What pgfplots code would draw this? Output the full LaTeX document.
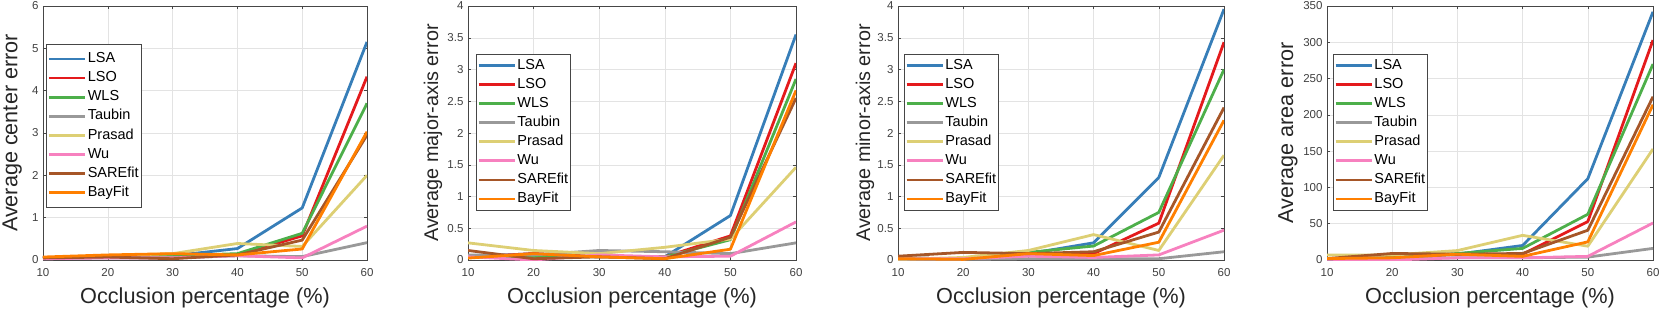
\documentclass[border=0pt]{standalone}
\usepackage{pgfplots}
\pgfplotsset{compat=1.18}
\usepackage{fontspec}
\setmainfont{Liberation Sans}
\definecolor{cLSA}{RGB}{55,126,184}
\definecolor{cLSO}{RGB}{228,26,28}
\definecolor{cWLS}{RGB}{77,175,74}
\definecolor{cTau}{RGB}{153,153,153}
\definecolor{cPra}{RGB}{221,207,116}
\definecolor{cWu}{RGB}{247,129,191}
\definecolor{cSAR}{RGB}{166,86,40}
\definecolor{cBay}{RGB}{255,127,0}
\definecolor{axc}{RGB}{70,70,70}
\pgfplotsset{
  myax/.style={
    scale only axis, height=254pt,
    xmin=10, xmax=60, xtick={10,20,30,40,50,60},
    ymin=0,
    axis line style={axc, line width=0.6pt},
    tick style={axc, line width=0.5pt},
    major tick length=3pt,
    tick pos=both, tick align=inside,
    grid=major, major grid style={gray!22, line width=0.5pt},
    /pgf/number format/assume math mode=true,
    /pgf/number format/fixed,
    ticklabel style={font=\fontsize{11.5}{13}\selectfont, text=black!75},
    xticklabel style={yshift=-5pt},
    yticklabel style={xshift=-1pt},
    xlabel={Occlusion percentage (\%)},
    xlabel style={font=\fontsize{21.7}{24}\selectfont, text=black!85, at={(axis description cs:0.5,0)}, anchor=base, yshift=-43pt},
    ylabel style={rotate=0, anchor=center, text=black!85},
    every axis plot/.append style={line width=2.8pt, line join=round},
    legend cell align=left,
    legend image code/.code={\draw[#1] (0pt,0pt) -- (36pt,0pt);},
    legend style={draw=axc, line width=0.5pt, anchor=north west,
      font=\fontsize{14.5}{16}\selectfont,
      nodes={text height=10.5pt, text depth=3pt, inner ysep=2.8pt, inner xsep=1.5pt},
      inner xsep=1pt, inner ysep=1.5pt},
  },
}
\begin{document}
\begin{tikzpicture}
\path[use as bounding box] (0,0) rectangle (1661pt,309pt);
% Panel 1
\begin{axis}[myax, at={(43pt,49pt)}, anchor=south west, width=324pt,
  ymax=6, ytick={0,1,2,3,4,5,6},
  ylabel={Average center error},
  ylabel style={font=\fontsize{21.6}{24}\selectfont, at={(axis description cs:-0.095,0.5)}},
  legend style={at={(axis description cs:0.01,0.85)}, inner ysep=5pt}]
\addplot[cLSA] coordinates {(10,0.05)(20,0.08)(30,0.10)(40,0.27)(50,1.23)(60,5.15)};
\addplot[cLSO] coordinates {(10,0.05)(20,0.08)(30,0.10)(40,0.12)(50,0.57)(60,4.33)};
\addplot[cWLS] coordinates {(10,0.05)(20,0.08)(30,0.10)(40,0.15)(50,0.63)(60,3.70)};
\addplot[cTau] coordinates {(10,0.03)(20,0.05)(30,0.05)(40,0.10)(50,0.08)(60,0.41)};
\addplot[cPra] coordinates {(10,0.05)(20,0.10)(30,0.15)(40,0.39)(50,0.32)(60,2.00)};
\addplot[cWu] coordinates {(10,0.03)(20,0.05)(30,0.05)(40,0.10)(50,0.05)(60,0.80)};
\addplot[cSAR] coordinates {(10,0.05)(20,0.07)(30,0.03)(40,0.12)(50,0.47)(60,2.95)};
\addplot[cBay] coordinates {(10,0.07)(20,0.12)(30,0.15)(40,0.12)(50,0.26)(60,3.03)};
\legend{LSA,LSO,WLS,Taubin,Prasad,Wu,SAREfit,BayFit}
\end{axis}
% Panel 2
\begin{axis}[myax, at={(468pt,49pt)}, anchor=south west, width=328pt,
  ymax=4, ytick={0,0.5,1,1.5,2,2.5,3,3.5,4},
  ylabel={Average major-axis error},
  ylabel style={font=\fontsize{19.8}{22}\selectfont, at={(axis description cs:-0.107,0.5)}},
  legend style={at={(axis description cs:0.024,0.811)}}]
\addplot[cLSA] coordinates {(10,0.05)(20,0.10)(30,0.05)(40,0.05)(50,0.70)(60,3.55)};
\addplot[cLSO] coordinates {(10,0.05)(20,0.10)(30,0.05)(40,0.05)(50,0.38)(60,3.10)};
\addplot[cWLS] coordinates {(10,0.05)(20,0.05)(30,0.05)(40,0.05)(50,0.32)(60,2.85)};
\addplot[cTau] coordinates {(10,0.08)(20,0.08)(30,0.15)(40,0.13)(50,0.10)(60,0.27)};
\addplot[cPra] coordinates {(10,0.27)(20,0.15)(30,0.10)(40,0.20)(50,0.33)(60,1.46)};
\addplot[cWu] coordinates {(10,0.05)(20,0.00)(30,0.08)(40,0.05)(50,0.06)(60,0.60)};
\addplot[cSAR] coordinates {(10,0.15)(20,0.02)(30,0.05)(40,0.02)(50,0.36)(60,2.55)};
\addplot[cBay] coordinates {(10,0.03)(20,0.10)(30,0.05)(40,0.02)(50,0.17)(60,2.67)};
\legend{LSA,LSO,WLS,Taubin,Prasad,Wu,SAREfit,BayFit}
\end{axis}
% Panel 3
\begin{axis}[myax, at={(898pt,49pt)}, anchor=south west, width=326pt,
  ymax=4, ytick={0,0.5,1,1.5,2,2.5,3,3.5,4},
  ylabel={Average minor-axis error},
  ylabel style={font=\fontsize{19.8}{22}\selectfont, at={(axis description cs:-0.101,0.5)}},
  legend style={at={(axis description cs:0.018,0.811)}}]
\addplot[cLSA] coordinates {(10,0.03)(20,0.02)(30,0.10)(40,0.27)(50,1.30)(60,3.95)};
\addplot[cLSO] coordinates {(10,0.03)(20,0.02)(30,0.10)(40,0.10)(50,0.58)(60,3.43)};
\addplot[cWLS] coordinates {(10,0.03)(20,0.02)(30,0.12)(40,0.22)(50,0.75)(60,3.00)};
\addplot[cTau] coordinates {(10,0.01)(20,0.01)(30,0.02)(40,0.02)(50,0.02)(60,0.13)};
\addplot[cPra] coordinates {(10,0.01)(20,0.04)(30,0.15)(40,0.40)(50,0.15)(60,1.65)};
\addplot[cWu] coordinates {(10,0.02)(20,0.02)(30,0.06)(40,0.04)(50,0.08)(60,0.47)};
\addplot[cSAR] coordinates {(10,0.06)(20,0.12)(30,0.10)(40,0.13)(50,0.44)(60,2.40)};
\addplot[cBay] coordinates {(10,0.02)(20,0.01)(30,0.10)(40,0.07)(50,0.28)(60,2.20)};
\legend{LSA,LSO,WLS,Taubin,Prasad,Wu,SAREfit,BayFit}
\end{axis}
% Panel 4
\begin{axis}[myax, at={(1327pt,49pt)}, anchor=south west, width=326pt,
  ymax=350, ytick={0,50,100,150,200,250,300,350},
  ylabel={Average area error},
  ylabel style={font=\fontsize{21.6}{24}\selectfont, at={(axis description cs:-0.12,0.5)}},
  legend style={at={(axis description cs:0.018,0.811)}}]
\addplot[cLSA] coordinates {(10,2)(20,3)(30,8)(40,20)(50,112)(60,342)};
\addplot[cLSO] coordinates {(10,2)(20,3)(30,8)(40,8)(50,53)(60,303)};
\addplot[cWLS] coordinates {(10,2)(20,3)(30,9)(40,16)(50,63)(60,270)};
\addplot[cTau] coordinates {(10,1)(20,2)(30,3)(40,3)(50,4)(60,16)};
\addplot[cPra] coordinates {(10,7)(20,7)(30,13)(40,34)(50,19)(60,153)};
\addplot[cWu] coordinates {(10,1)(20,0)(30,3)(40,3)(50,5)(60,51)};
\addplot[cSAR] coordinates {(10,2)(20,9)(30,8)(40,9)(50,41)(60,225)};
\addplot[cBay] coordinates {(10,2)(20,3)(30,8)(40,5)(50,25)(60,214)};
\legend{LSA,LSO,WLS,Taubin,Prasad,Wu,SAREfit,BayFit}
\end{axis}
\end{tikzpicture}
\end{document}
